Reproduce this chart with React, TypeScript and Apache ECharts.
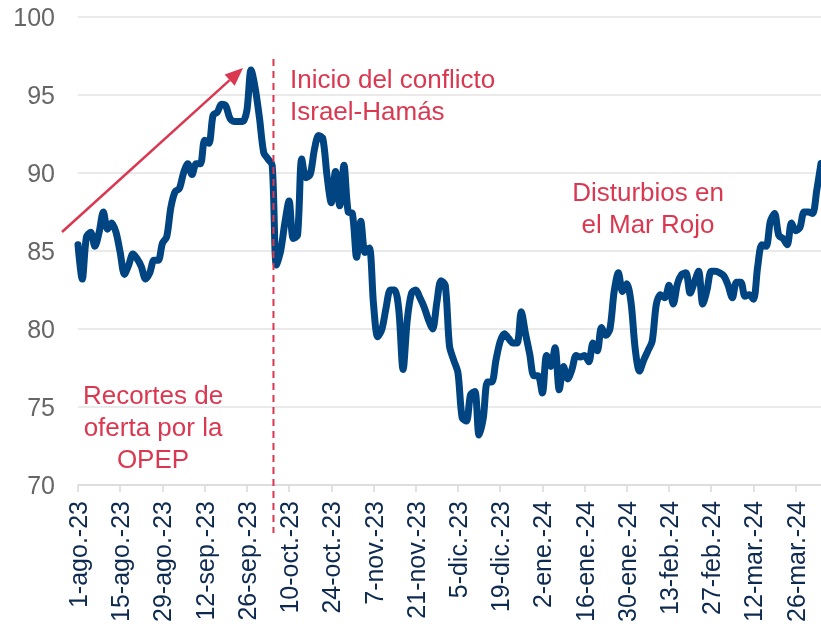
import React, { useEffect, useRef } from "react";
import * as echarts from "echarts";

// Tick labels every 10 business days (two weeks), starting 1-ago.-23
const tickLabels = [
  "1-ago.-23", "15-ago.-23", "29-ago.-23", "12-sep.-23", "26-sep.-23",
  "10-oct.-23", "24-oct.-23", "7-nov.-23", "21-nov.-23", "5-dic.-23",
  "19-dic.-23", "2-ene.-24", "16-ene.-24", "30-ene.-24", "13-feb.-24",
  "27-feb.-24", "12-mar.-24", "26-mar.-24",
];

// Daily (business day) values, 1-Aug-2023 .. 3-Apr-2024
const brent = [
  85.4, 83.2, 85.9, 86.2, 85.3, 86.2, 87.5, 86.4, 86.8, 86.2,
  84.9, 83.5, 84.1, 84.8, 84.5, 84.0, 83.2, 83.6, 84.4, 84.4,
  85.5, 85.9, 87.8, 88.8, 89.0, 90.0, 90.6, 89.9, 90.6, 90.6,
  92.1, 91.9, 93.7, 93.9, 94.4, 94.3, 93.5, 93.3, 93.3, 93.3,
  94.0, 96.6, 95.4, 93.5, 91.3, 90.9, 90.5, 84.1, 85.0, 86.8,
  88.2, 85.8, 86.0, 90.9, 89.7, 89.9, 91.5, 92.4, 92.2, 89.8,
  88.1, 90.1, 87.9, 90.5, 87.5, 87.4, 84.6, 86.9, 84.9, 85.2,
  81.6, 79.5, 80.0, 81.4, 82.5, 82.5, 81.2, 77.4, 80.6, 82.3,
  82.5, 82.0, 81.4, 80.6, 80.0, 81.7, 83.1, 82.8, 78.9, 78.0,
  77.2, 74.3, 74.1, 75.8, 76.0, 73.2, 74.3, 76.6, 76.6, 78.0,
  79.2, 79.7, 79.4, 79.1, 79.1, 81.1, 79.7, 78.4, 77.0, 77.0,
  75.9, 78.3, 77.6, 78.8, 76.1, 77.6, 76.8, 77.4, 78.3, 78.2,
  78.3, 77.9, 79.1, 78.6, 80.1, 79.6, 80.0, 82.4, 83.6, 82.4,
  82.9, 81.7, 78.7, 77.3, 78.0, 78.6, 79.2, 81.6, 82.2, 82.0,
  82.8, 81.6, 82.9, 83.5, 83.6, 82.3, 83.0, 83.7, 81.6, 82.5,
  83.7, 83.7, 83.6, 83.4, 82.8, 82.0, 83.0, 83.0, 82.1, 82.2,
  81.9, 84.0, 85.4, 85.3, 86.9, 87.4, 86.0, 85.8, 85.4, 86.8,
  86.3, 86.5, 87.5, 87.5, 87.4, 88.9, 90.6,
];

// Event marker (between 4-oct and 5-oct, in business-day index units)
const eventIndex = 46.3;

const annotationIsrael = ["Inicio del conflicto", "Israel-Hamás"];
const annotationRojo = ["Disturbios en", "el Mar Rojo"];
const annotationOpep = ["Recortes de", "oferta por la", "OPEP"];

const RED = "#DA3851";
const BLUE = "#004481";
const FONT = "'Liberation Sans', Arial, sans-serif";

export default function App() {
  const ref = useRef<HTMLDivElement>(null);

  useEffect(() => {
    if (!ref.current) return;
    const chart = echarts.init(ref.current, undefined, { renderer: "svg" });
    const data = brent.map((v, i) => [i, v]);
    const maxIdx = brent.length - 1;

    chart.setOption({
      animation: false,
      grid: { left: 78, right: 0, top: 17, bottom: 147, containLabel: false },
      xAxis: {
        type: "value",
        min: 0,
        max: maxIdx,
        interval: 10,
        splitLine: { show: false },
        axisLine: { show: true, onZero: false, lineStyle: { color: "#D9D9D9", width: 1.5 } },
        axisTick: { show: true, length: 7, lineStyle: { color: "#D9D9D9", width: 1.5 } },
        axisLabel: {
          rotate: 90,
          margin: 16,
          fontSize: 25,
          fontFamily: FONT,
          color: "#0E2A4F",
          showMaxLabel: false,
          formatter: (v: number) => (v % 10 === 0 ? tickLabels[v / 10] ?? "" : ""),
        },
      },
      yAxis: {
        type: "value",
        min: 70,
        max: 100,
        interval: 5,
        axisLine: { show: false },
        axisTick: { show: false },
        splitLine: { lineStyle: { color: "#E3E3E3", width: 1.5 } },
        axisLabel: { fontSize: 25, fontFamily: FONT, color: "#666666", margin: 23 },
      },
      series: [
        {
          type: "line",
          data,
          showSymbol: false,
          smooth: 0.3,
          clip: false,
          lineStyle: { color: BLUE, width: 7, cap: "round", join: "round" },
          z: 3,
        },
      ],
    });

    const x = chart.convertToPixel({ xAxisIndex: 0 }, eventIndex) as number;

    // Arrow geometry
    const x0 = 62, y0 = 232, tx = 243, ty = 68;
    const dx = tx - x0, dy = ty - y0;
    const len = Math.sqrt(dx * dx + dy * dy);
    const ux = dx / len, uy = dy / len;
    const headLen = 18, headHalf = 7.5;
    const bx = tx - ux * headLen, by = ty - uy * headLen;
    const nx = -uy, ny = ux;

    const textStyle = { fill: RED, fontSize: 26, fontFamily: FONT };
    const lines = (arr: string[], cx: number, cy: number, align: string) =>
      arr.map((t, i) => ({
        type: "text",
        x: cx,
        y: cy + i * 32,
        style: { ...textStyle, text: t, align, verticalAlign: "middle" },
        z: 10,
      }));

    chart.setOption({
      graphic: [
        {
          type: "line",
          shape: { x1: x, y1: 59, x2: x, y2: 533 },
          style: { stroke: RED, lineWidth: 2, lineDash: [7, 5] },
          z: 10,
        },
        {
          type: "line",
          shape: { x1: x0, y1: y0, x2: bx, y2: by },
          style: { stroke: RED, lineWidth: 2.5 },
          z: 10,
        },
        {
          type: "polygon",
          shape: {
            points: [
              [tx, ty],
              [bx + nx * headHalf, by + ny * headHalf],
              [bx - nx * headHalf, by - ny * headHalf],
            ],
          },
          style: { fill: RED },
          z: 10,
        },
        ...lines(annotationIsrael, 290, 79, "left"),
        ...lines(annotationRojo, 648, 192, "center"),
        ...lines(annotationOpep, 153, 395, "center"),
      ],
    });

    return () => chart.dispose();
  }, []);

  return (
    <div
      ref={ref}
      style={{ position: "fixed", left: 0, top: 0, width: 821, height: 632, overflow: "hidden" }}
    />
  );
}
